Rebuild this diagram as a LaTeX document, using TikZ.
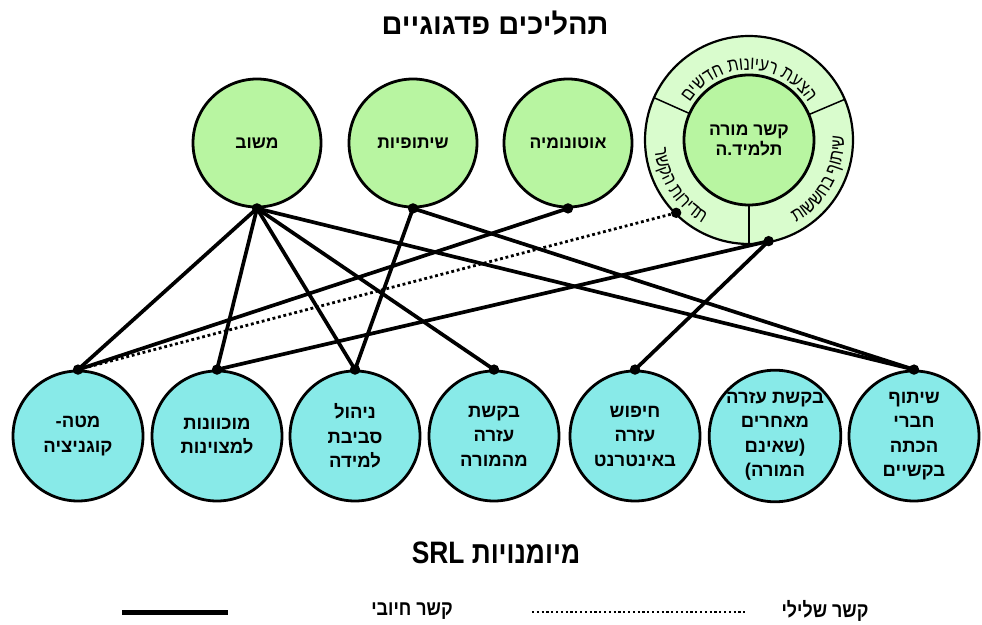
\documentclass[tikz,border=0pt]{standalone}
\usepackage{fontspec}
\setmainfont{Liberation Sans}
\newfontfamily\heb[Script=Hebrew]{Liberation Sans}
\newfontfamily\hebn[Script=Hebrew,FakeStretch=0.85]{Liberation Sans}
\newfontfamily\ringfont[Script=Hebrew,FakeStretch=0.84]{Liberation Sans}
\TeXXeTstate=1
\usetikzlibrary{decorations.text}
\newcommand\hr[1]{\beginR#1\endR}
\newcommand\ringtxt{\ringfont\fontsize{19}{21}\selectfont}
\definecolor{topgreen}{RGB}{184,245,161}
\definecolor{ringgreen}{RGB}{217,252,205}
\definecolor{botcyan}{RGB}{136,234,232}
\begin{document}
\begin{tikzpicture}[x=1pt,y=1pt,
  topc/.style={circle,draw,line width=2.8pt,fill=topgreen,minimum size=128pt,inner sep=0pt,
    font=\heb\bfseries\fontsize{17.5}{20}\selectfont,align=center},
  botc/.style={circle,draw,line width=2.8pt,fill=botcyan,minimum size=130pt,inner sep=0pt,
    font=\heb\bfseries\fontsize{18.5}{24.5}\selectfont,align=center},
  conn/.style={line width=3.7pt,line cap=round},
  neg/.style={line width=2.8pt,dash pattern=on 2.8pt off 2.8pt},
  ringtext/.style={decorate,decoration={text along path,text align=center,text={#1}}}]
\useasboundingbox (0,0) rectangle (982,624);

% titles
\node[font=\heb\bfseries\fontsize{29}{32}\selectfont] (t1) at (495,601) {\hr{תהליכים פדגוגיים}};
\node[font=\hebn\bfseries\fontsize{31}{34}\selectfont] (t2) at (496,71) {\hr{מיומנויות \beginL SRL\endL}};

% top circles
\node[topc] (mashov) at (257,481) {\hr{משוב}};
\node[topc] (shitufiut) at (413,481) {\hr{שיתופיות}};
\node[topc] (oton) at (568,481) {\hr{אוטונומיה}};

% ring
\begin{scope}[shift={(749,484)}]
  \draw[line width=2.2pt,fill=ringgreen] (0,0) circle (104);
  \draw[line width=1.5pt] (156:64) -- (156:104);
  \draw[line width=1.5pt] (23:64) -- (23:104);
  \draw[line width=1.5pt] (-90:64) -- (-90:104);
  \node[circle,draw,line width=2.8pt,fill=topgreen,minimum size=130pt,inner sep=0pt,
    font=\heb\bfseries\fontsize{17.5}{20}\selectfont,align=center] (kesher) at (0,0)
    {\hr{קשר מורה}\\\hr{תלמיד.ה}};
  \path[ringtext={|\ringtxt|םישדח תונויער תעצה}] (155:70) arc[start angle=155,end angle=25,radius=70];
  \path[ringtext={|\ringtxt|תוששחב ףותיש}] (-82:95) arc[start angle=-82,end angle=24,radius=95];
  \path[ringtext={|\ringtxt|רשקה תורידת}] (163:95) arc[start angle=163,end angle=263,radius=95];
  \coordinate (pneg) at (225:103);
  \coordinate (ppos) at (-79:103);
\end{scope}

% bottom circles
\node[botc] (meta) at (78,188) {\hr{מטה-}\\\hr{קוגניציה}};
\node[botc] (motiv) at (217,188) {\hr{מוכוונות}\\\hr{למצוינות}};
\node[botc] (nihul) at (355,188) {\hr{ניהול}\\\hr{סביבת}\\\hr{למידה}};
\node[botc] (bakasha) at (494,188) {\hr{בקשת}\\\hr{עזרה}\\\hr{מהמורה}};
\node[botc] (hipus) at (635,188) {\hr{חיפוש}\\\hr{עזרה}\\\hr{באינטרנט}};
\node[botc] (aherim) at (775,188) {\hr{בקשת עזרה}\\\hr{מאחרים}\\\hr{(שאינם}\\\hr{המורה)}};
\node[botc] (shituf) at (914,188) {\hr{שיתוף}\\\hr{חברי}\\\hr{הכתה}\\\hr{בקשיים}};

% connectors
\draw[conn] (mashov.south) -- (meta.north);
\draw[conn] (mashov.south) -- (motiv.north);
\draw[conn] (mashov.south) -- (nihul.north);
\draw[conn] (mashov.south) -- (bakasha.north);
\draw[conn] (mashov.south) -- (shituf.north);
\draw[conn] (shitufiut.south) -- (nihul.north);
\draw[conn] (shitufiut.south) -- (shituf.north);
\draw[conn] (oton.south) -- (meta.north);
\draw[conn] (ppos) -- (motiv.north);
\draw[conn] (ppos) -- (hipus.north);
\draw[neg] (pneg) -- (meta.north);

% dots
\foreach \p in {mashov.south,shitufiut.south,oton.south,meta.north,motiv.north,nihul.north,bakasha.north,hipus.north,shituf.north,ppos,pneg}
  \fill (\p) circle (5.2);

% legend
\coordinate (lsa) at (122,12);
\coordinate (lsb) at (228,12);
\draw[line width=5pt] (lsa) -- (lsb);
\node[font=\hebn\bfseries\fontsize{21}{24}\selectfont] (lpos) at (412,13) {\hr{קשר חיובי}};
\coordinate (lda) at (532,12);
\coordinate (ldb) at (746,12);
\draw[line width=2.2pt,dash pattern=on 2.2pt off 2.6pt] (lda) -- (ldb);
\node[font=\hebn\bfseries\fontsize{21}{24}\selectfont] (lneg) at (825,13) {\hr{קשר שלילי}};
\end{tikzpicture}
\end{document}
